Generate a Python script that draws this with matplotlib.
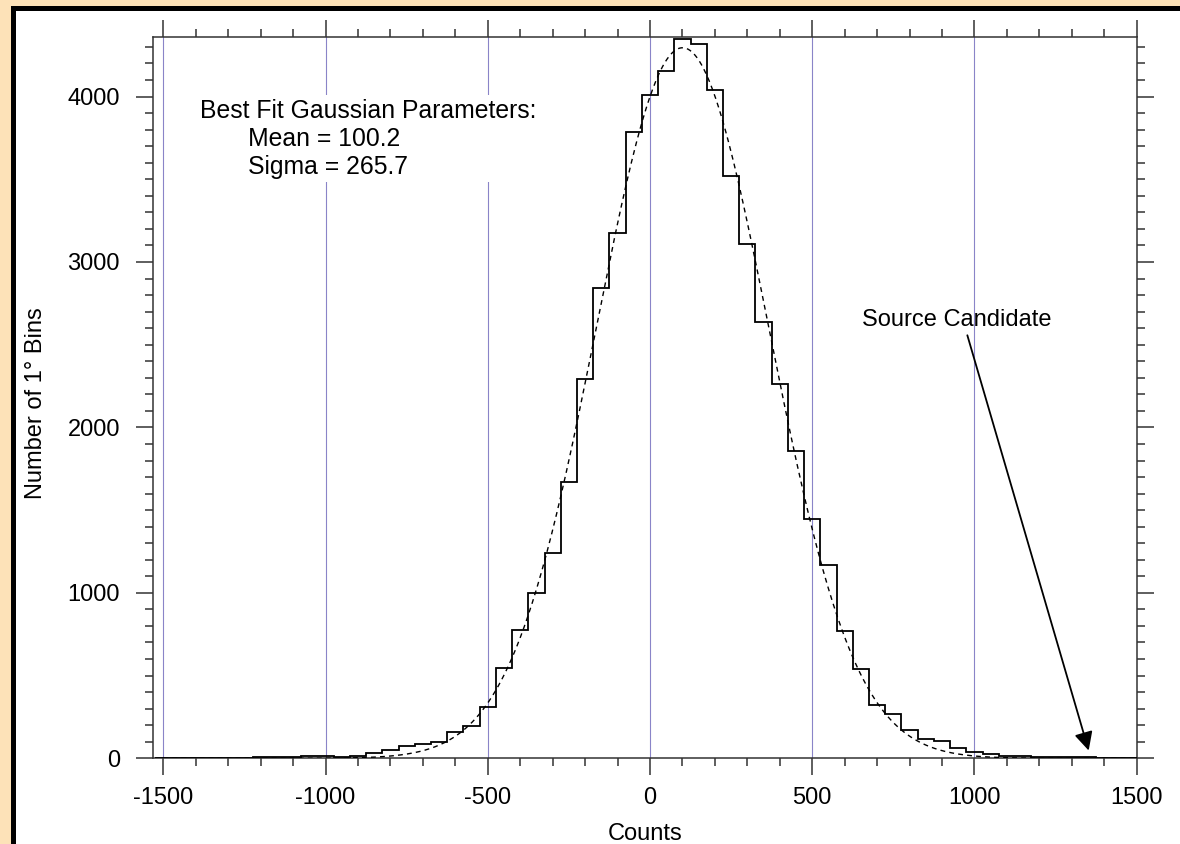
import numpy as np
import matplotlib
matplotlib.use("Agg")
import matplotlib.pyplot as plt
from matplotlib.patches import Rectangle
from matplotlib.ticker import MultipleLocator

plt.rcParams['font.family'] = ['Liberation Sans', 'DejaVu Sans']
plt.rcParams['axes.unicode_minus'] = False

# histogram: bin centres (width 50) and number of 1 degree bins in each
bin_centers = list(range(-1500, 1501, 50))
bin_counts = [3, 3, 3, 3, 3, 4, 5, 10, 10, 16,
              16, 6, 16, 30, 53, 77, 87, 97, 161, 198,
              309, 545, 774, 1002, 1238, 1670, 2293, 2843, 3176, 3787,
              4011,
              4156, 4346, 4318, 4039, 3521, 3109, 2638, 2265, 1857, 1444,
              1168, 772, 537, 323, 269, 172, 117, 107, 60, 40,
              26, 16, 12, 5, 5, 10, 6, 4, 3, 3]
bin_width = 50

# best fit gaussian (values printed on the chart)
fit_mean = 100.2
fit_sigma = 265.7
fit_peak = 4295

grid_x = [-1500, -1000, -500, 0, 500, 1000]

candidate_xy = (1352, 47)
candidate_text_xy = (978, 2557)

fig = plt.figure(figsize=(11.8, 8.44), dpi=100)
fig.patch.set_facecolor('#fde2b8')
W, H = 1180, 844
frame = Rectangle((12.5 / W, -0.1), 1.2, 1.1 - 7.5 / H, transform=fig.transFigure,
                  facecolor='white', edgecolor='black', linewidth=3.6, zorder=-1)
fig.add_artist(frame)

ax = fig.add_axes([153.3 / W, (H - 758.3) / H, (1136.7 - 153.3) / W, (758.3 - 36.5) / H])

for gx in grid_x:
    ax.axvline(gx, color='#8a84c8', lw=0.8, zorder=1)

edges = np.array(bin_centers, dtype=float) - bin_width / 2
edges = np.append(edges, bin_centers[-1] + bin_width / 2)
ax.stairs(bin_counts, edges, color='black', lw=1.3, zorder=3)

xs = np.linspace(-1500, 1500, 600)
ax.plot(xs, fit_peak * np.exp(-0.5 * ((xs - fit_mean) / fit_sigma) ** 2),
        color='black', lw=1.0, ls=(0, (3.5, 3)), zorder=3)

ax.text(-1387, 3985,
        "Best Fit Gaussian Parameters:\n       Mean = %.1f\n       Sigma = %.1f" % (fit_mean, fit_sigma),
        fontsize=17.8, ha='left', va='top', linespacing=1.2, zorder=4,
        bbox=dict(facecolor='white', edgecolor='none', boxstyle='square,pad=0.15'))

ax.annotate('', xy=candidate_xy, xytext=candidate_text_xy,
            arrowprops=dict(arrowstyle='-|>,head_length=0.4,head_width=0.2', color='black',
                            lw=1.3, mutation_scale=28, shrinkA=0, shrinkB=0), zorder=5)
ax.text(654, 2647, "Source Candidate", fontsize=17, ha='left', va='center', zorder=5)

ax.set_xlim(-1531, 1500)
ax.set_ylim(0, 4363)
ax.xaxis.set_major_locator(MultipleLocator(500))
ax.xaxis.set_minor_locator(MultipleLocator(100))
ax.yaxis.set_major_locator(MultipleLocator(1000))
ax.yaxis.set_minor_locator(MultipleLocator(100))

for s in ax.spines.values():
    s.set_color('#333333')
    s.set_linewidth(1.1)
ax.tick_params(which='both', direction='out', top=True, right=True, color='#333333',
               width=1.1, labelsize=17)
ax.tick_params(which='major', length=12)
ax.tick_params(which='minor', length=5.5)
ax.tick_params(axis='x', which='major', pad=9)
ax.tick_params(axis='y', which='major', pad=12)

ax.set_xlabel("Counts", fontsize=17, labelpad=10)
ax.set_ylabel("Number of 1\u00b0 Bins", fontsize=17)
ax.yaxis.set_label_coords(-0.108, 0.492)

fig.savefig("out.png", dpi=100)
